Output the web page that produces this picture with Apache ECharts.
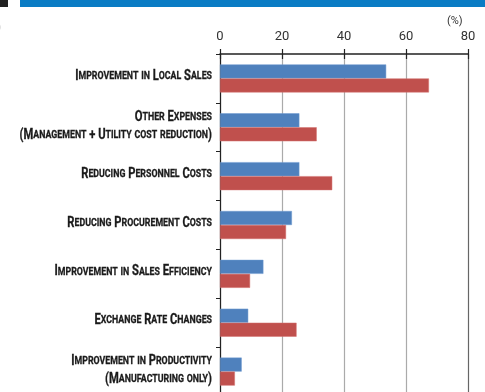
<!DOCTYPE html>
<html>
<head>
<meta charset="utf-8">
<script src="https://cdn.jsdelivr.net/npm/echarts@6/dist/echarts.min.js"></script>
<style>
  html, body { margin: 0; padding: 0; background: #fff; }
  #chart { width: 485px; height: 392px; }
</style>
</head>
<body>
<div id="chart"></div>
<script>
// Effect categories (top to bottom)
const categories = [
  'Improvement in Local Sales',
  'Other Expenses\n(Management + Utility cost reduction)',
  'Reducing Personnel Costs',
  'Reducing Procurement Costs',
  'Improvement in Sales Efficiency',
  'Exchange Rate Changes',
  'Improvement in Productivity\n(Manufacturing only)'
];
// Share of respondents (%)
const blueValues = [53.6, 25.6, 25.6, 23.2, 14.0, 9.1, 7.0];
const redValues  = [67.4, 31.2, 36.2, 21.3, 9.7, 24.7, 4.8];
const xTicks = [0, 20, 40, 60, 80];

const LABEL_FONT = "Roboto, 'DejaVu Sans Condensed', sans-serif";

// Small-caps rendering: capitals large, lowercase letters as small capitals
function smallCaps(text) {
  return text.split('\n').map(function (line) {
    let out = '';
    let run = '', cls = null;
    const flush = function () {
      if (run) out += '{' + cls + '|' + (cls === 's' ? run.toUpperCase() : run) + '}';
      run = '';
    };
    for (const ch of line) {
      const c = /[a-z]/.test(ch) ? 's' : 'b';
      if (c !== cls) { flush(); cls = c; }
      run += ch;
    }
    flush();
    return out;
  }).join('\n');
}

const labelRich = {
  b: { fontSize: 14, fontWeight: 'bold', fill: '#1a1a1a', fontFamily: LABEL_FONT, lineHeight: 18, stroke: '#1a1a1a', lineWidth: 0.3 },
  s: { fontSize: 11, fontWeight: 'bold', fill: '#1a1a1a', fontFamily: LABEL_FONT, lineHeight: 18, stroke: '#1a1a1a', lineWidth: 0.3 }
};

const chart = echarts.init(document.getElementById('chart'));
const baseGraphic = [
  { type: 'rect', shape: { x: 20, y: 0, width: 465, height: 7 }, style: { fill: '#0a7cc4' } },
  { type: 'rect', shape: { x: 0, y: 0, width: 8, height: 7 }, style: { fill: '#222' } },
  { type: 'text', left: -3, top: 22, style: { text: ')', fill: '#aaa', fontSize: 12, fontFamily: LABEL_FONT } },
  { type: 'text', left: 447, top: 16, style: { text: '(%)', fill: '#333', fontSize: 11, fontFamily: LABEL_FONT } }
];

chart.setOption({
  animation: false,
  backgroundColor: '#ffffff',
  grid: { left: 220, right: 17, top: 54, bottom: -4, containLabel: false, outerBoundsMode: 'none' },
  xAxis: [
    {
      type: 'value', position: 'top', min: 0, max: 80, interval: 20,
      axisLine: { show: true, lineStyle: { color: '#222', width: 1.5 } },
      axisTick: { show: true, inside: false, length: 5, lineStyle: { color: '#222', width: 1.2 } },
      axisLabel: {
        margin: 11, color: '#333', fontSize: 13, fontFamily: LABEL_FONT,
        formatter: function (v) { return xTicks.indexOf(v) >= 0 ? String(v) : ''; }
      },
      splitLine: { show: true, lineStyle: { color: ['#aaaaaa', '#aaaaaa', '#aaaaaa', '#aaaaaa', '#666666'], width: 1.2 } }
    },
    {
      type: 'value', position: 'top', min: 0, max: 80, interval: 20,
      axisLine: { show: false },
      axisTick: { show: true, inside: true, length: 5, lineStyle: { color: '#222', width: 1.2 } },
      axisLabel: { show: false },
      splitLine: { show: false }
    }
  ],
  yAxis: {
    type: 'category', data: categories, inverse: true,
    axisLine: { show: true, lineStyle: { color: '#222', width: 1.2 } },
    axisTick: { show: true, length: 4, lineStyle: { color: '#222' } },
    axisLabel: { show: false }
  },
  series: [
    {
      name: 'Group 1', type: 'bar', data: blueValues, barWidth: 14, barGap: '0%',
      itemStyle: { color: '#4f81bd', borderColor: '#6f9ad0', borderWidth: 0.5 }
    },
    {
      name: 'Group 2', type: 'bar', data: redValues, barWidth: 14, barGap: '0%',
      itemStyle: { color: '#c0504d', borderColor: '#d47270', borderWidth: 0.5 }
    }
  ],
  graphic: baseGraphic
});

// Category labels: condensed small caps, placed at each band centre of the category axis
const labelRight = chart.convertToPixel({ xAxisIndex: 0 }, 0) - 8;
const labelGraphic = categories.map(function (name, i) {
  const cy = chart.convertToPixel({ yAxisIndex: 0 }, i);
  const lines = name.split('\n').length;
  return {
    type: 'text', x: labelRight, y: cy - (lines > 1 ? 1 : 2), scaleX: 0.8,
    style: { text: smallCaps(name), align: 'right', verticalAlign: 'middle', rich: labelRich }
  };
});
chart.setOption({ graphic: baseGraphic.concat(labelGraphic) });
</script>
</body>
</html>
